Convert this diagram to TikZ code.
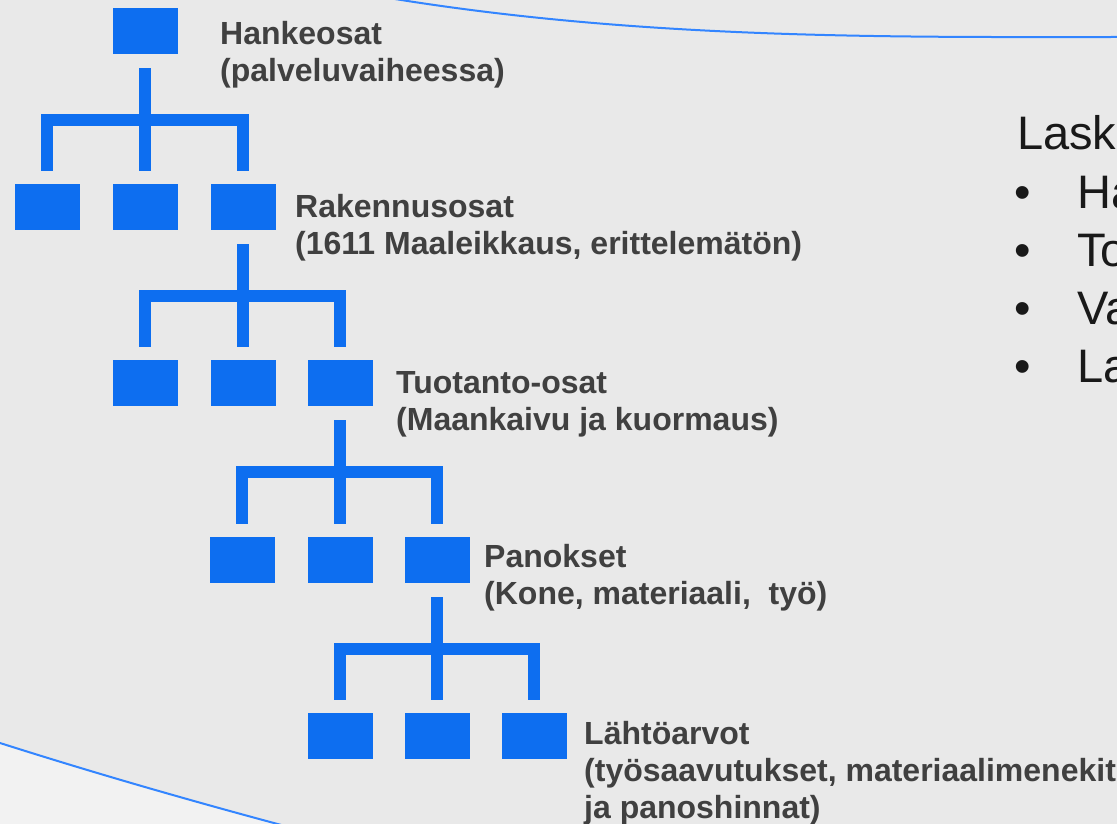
\documentclass[tikz,border=0pt]{standalone}
\usepackage{fontspec}
\setmainfont{Liberation Sans}

\definecolor{pageGray}{HTML}{E9E9E9}
\definecolor{pageLight}{HTML}{F2F2F2}
\definecolor{boxBlue}{HTML}{0D6EF0}
\definecolor{lineBlue}{HTML}{3385FF}
\definecolor{labelGray}{HTML}{404040}

\tikzset{
    blk/.style={fill=boxBlue, minimum width=65pt, minimum height=46pt, inner sep=0pt},
    lnk/.style={draw=boxBlue, line width=12pt, line join=miter},
    lbl/.style={anchor=base west, align=left, inner sep=0pt, text=labelGray,
                font=\bfseries\fontsize{32}{37}\selectfont},
    side/.style={anchor=base west, inner sep=0pt, text=black!90,
                 font=\fontsize{47}{58}\selectfont}
}

\begin{document}
\begin{tikzpicture}[x=1pt, y=-1pt]
    % Page
    \clip (0,0) rectangle (1117,824);
    \fill[pageGray] (0,0) rectangle (1117,824);
    \fill[pageLight] (0,743) .. controls (110,778) and (210,806) .. (300,830) -- (0,830) -- cycle;
    \draw[lineBlue, line width=2pt] (0,743) .. controls (110,778) and (210,806) .. (300,830);
    \draw[lineBlue, line width=2pt] (395,-1) .. controls (650,40) and (900,37) .. (1120,37);

    % Hankeosat (base is the last line)
    \node[blk] (p0) at (145,31) {};
    \node[lbl] (t0) at (220,82) {Hankeosat\\(palveluvaiheessa)};
    \node[blk] (a1) at (47,207) {};
    \node[blk] (b1) at (145,207) {};
    \node[blk] (p1) at (243,207) {};
    \draw[lnk] ([yshift=-14pt]p0.south) -- ++(0,51.5) coordinate (j0);
    \draw[lnk] ([yshift=13pt]a1.north) |- (j0) -| ([yshift=13pt]p1.north);
    \draw[lnk] (j0) -- ([yshift=13pt]b1.north);

    % Rakennusosat
    \node[lbl] (t1) at (295,254) {Rakennusosat\\(1611 Maaleikkaus, erittelemätön)};
    \node[blk] (a2) at (145,383) {};
    \node[blk] (b2) at (243,383) {};
    \node[blk] (p2) at (340,383) {};
    \draw[lnk] ([yshift=-14pt]p1.south) -- ++(0,51.5) coordinate (j1);
    \draw[lnk] ([yshift=13pt]a2.north) |- (j1) -| ([yshift=13pt]p2.north);
    \draw[lnk] (j1) -- ([yshift=13pt]b2.north);

    % Tuotanto-osat
    \node[lbl] (t2) at (396,430) {Tuotanto-osat\\(Maankaivu ja kuormaus)};
    \node[blk] (a3) at (242,560) {};
    \node[blk] (b3) at (340,560) {};
    \node[blk] (p3) at (437,560) {};
    \draw[lnk] ([yshift=-14pt]p2.south) -- ++(0,51.5) coordinate (j2);
    \draw[lnk] ([yshift=13pt]a3.north) |- (j2) -| ([yshift=13pt]p3.north);
    \draw[lnk] (j2) -- ([yshift=13pt]b3.north);

    % Panokset
    \node[lbl] (t3) at (484,604) {Panokset\\(Kone, materiaali,~ työ)};
    \node[blk] (a4) at (340,736) {};
    \node[blk] (b4) at (437,736) {};
    \node[blk] (p4) at (534,736) {};
    \draw[lnk] ([yshift=-14pt]p3.south) -- ++(0,51.5) coordinate (j3);
    \draw[lnk] ([yshift=13pt]a4.north) |- (j3) -| ([yshift=13pt]p4.north);
    \draw[lnk] (j3) -- ([yshift=13pt]b4.north);

    % Lähtöarvot
    \node[lbl] (t4) at (584,818) {Lähtöarvot\\(työsaavutukset, materiaalimenekit\\ja panoshinnat)};

    % Side list
    \node[side] (hd) at (1017,150) {Lask};
    \node[side] (d1) at (1014,208) {•};
    \node[side] (w1) at (1077,208) {Ha};
    \node[side] (d2) at (1014,266) {•};
    \node[side] (w2) at (1077,266) {To};
    \node[side] (d3) at (1014,324) {•};
    \node[side] (w3) at (1077,324) {Va};
    \node[side] (d4) at (1014,382) {•};
    \node[side] (w4) at (1077,382) {La};
\end{tikzpicture}
\end{document}
